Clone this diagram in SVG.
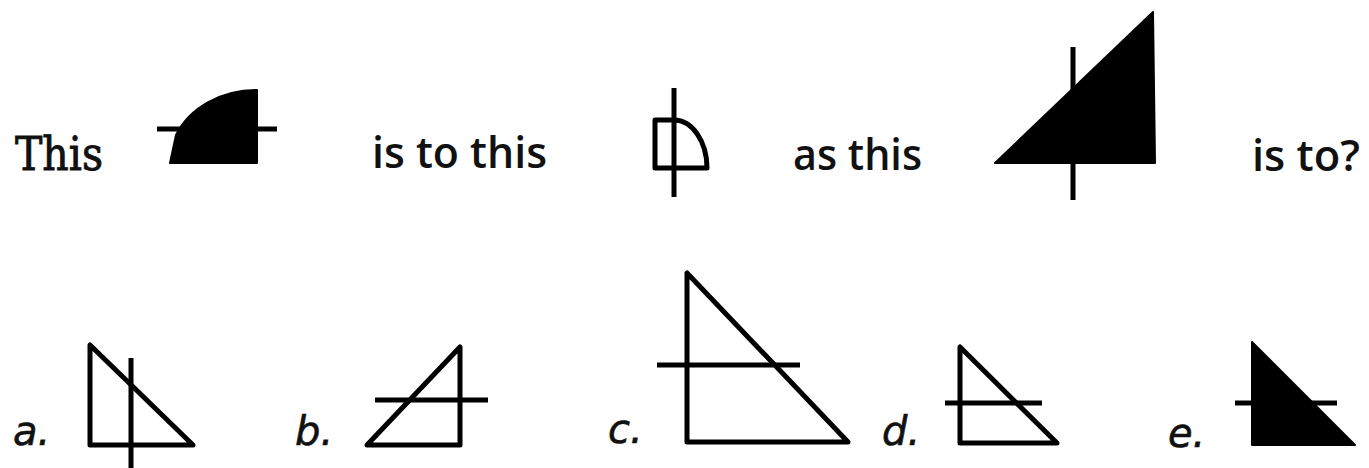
<svg xmlns="http://www.w3.org/2000/svg" width="1369" height="468" viewBox="0 0 1369 468">
<style>
.sans{font-family:"Open Sans","Liberation Sans",sans-serif;font-size:44px;font-weight:600;fill:#111}
.serif{font-family:"DejaVu Serif","Liberation Serif",serif;font-size:46px;fill:#111;stroke:#111;stroke-width:0.9}
.lab{font-family:"DejaVu Sans","Liberation Sans",sans-serif;font-style:italic;font-size:40px;fill:#111;stroke:#111;stroke-width:0.6}
.ln{stroke:#000;stroke-width:5;fill:none;stroke-linejoin:round;stroke-linecap:butt}
.fill{fill:#000;stroke:#000;stroke-width:2;stroke-linejoin:round}
</style>
<rect width="1369" height="468" fill="#fff"/>
<g id="question">
  <text class="serif" x="15" y="170" textLength="88" lengthAdjust="spacingAndGlyphs">This</text>
  <g id="shape1">
    <path class="fill" d="M170,163 L176,135 A87,73 0 0 1 257,90 L257,163 Z"/>
    <line class="ln" x1="157" y1="129" x2="277" y2="129"/>
  </g>
  <text class="sans" x="372" y="168" textLength="175" lengthAdjust="spacingAndGlyphs">is to this</text>
  <g id="shape2">
    <path class="ln" d="M674,120 L655,120 L655,168 L707,168 A33,48 0 0 0 674,120"/>
    <line class="ln" x1="674" y1="88" x2="674" y2="197"/>
  </g>
  <text class="sans" x="793" y="170" textLength="129" lengthAdjust="spacingAndGlyphs">as this</text>
  <g id="shape3">
    <path class="fill" d="M995,163 L1153,12 L1155,163 Z"/>
    <line class="ln" x1="1073" y1="47" x2="1073" y2="200"/>
  </g>
  <text class="sans" x="1252" y="171" textLength="108" lengthAdjust="spacingAndGlyphs">is to?</text>
</g>
<g id="option-a">
  <text class="lab" x="13" y="445">a.</text>
  <path class="ln" d="M90,345 L90,445 L193,445 Z"/>
  <line class="ln" x1="131" y1="358" x2="131" y2="468"/>
</g>
<g id="option-b">
  <text class="lab" x="295" y="445">b.</text>
  <path class="ln" d="M367,445 L460,347 L460,445 Z"/>
  <line class="ln" x1="375" y1="400" x2="488" y2="400"/>
</g>
<g id="option-c">
  <text class="lab" x="608" y="443">c.</text>
  <path class="ln" d="M687,273 L687,442 L848,442 Z"/>
  <line class="ln" x1="657" y1="365" x2="800" y2="365"/>
</g>
<g id="option-d">
  <text class="lab" x="882" y="445">d.</text>
  <path class="ln" d="M960,347 L960,443 L1057,443 Z"/>
  <line class="ln" x1="945" y1="403" x2="1042" y2="403"/>
</g>
<g id="option-e">
  <text class="lab" x="1168" y="447">e.</text>
  <path class="fill" d="M1252,342 L1252,445 L1355,445 Z"/>
  <line class="ln" x1="1235" y1="403" x2="1337" y2="403"/>
</g>
</svg>
